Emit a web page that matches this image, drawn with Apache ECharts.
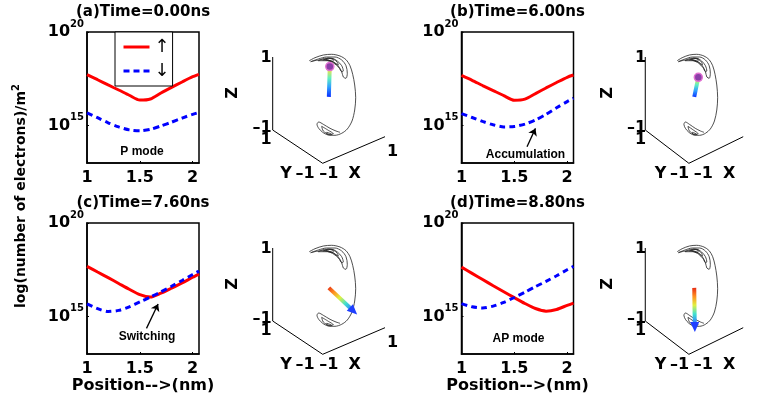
<!DOCTYPE html>
<html>
<head>
<meta charset="utf-8">
<script src="https://cdn.jsdelivr.net/npm/echarts@6/dist/echarts.min.js"></script>
<style>
  html, body { margin: 0; padding: 0; background: #fff; }
  #chart { width: 763px; height: 406px; }
</style>
</head>
<body>
<div id="chart"></div>
<script>
  // position along the device (nm)
  var position = [1.0, 1.1, 1.2, 1.3, 1.4, 1.5, 1.6, 1.7, 1.8, 1.9, 2.0, 2.06];
  // log10 of electron density (/m^2), spin up = red, spin down = blue
  var upA   = [17.72, 17.45, 17.17, 16.90, 16.62, 16.36, 16.42, 16.74, 17.04, 17.33, 17.61, 17.74];
  var downA = [15.68, 15.42, 15.15, 14.93, 14.77, 14.72, 14.80, 14.98, 15.18, 15.40, 15.60, 15.70];
  var upB   = [17.68, 17.42, 17.14, 16.87, 16.60, 16.35, 16.41, 16.71, 17.01, 17.30, 17.58, 17.70];
  var downB = [15.64, 15.43, 15.22, 15.04, 14.93, 14.95, 15.08, 15.30, 15.60, 15.95, 16.28, 16.46];
  var upC   = [17.68, 17.38, 17.08, 16.77, 16.46, 16.17, 16.04, 16.25, 16.52, 16.80, 17.10, 17.27];
  var downC = [15.68, 15.42, 15.27, 15.33, 15.52, 15.78, 16.04, 16.32, 16.62, 16.93, 17.25, 17.43];
  var upD   = [17.64, 17.31, 16.98, 16.65, 16.33, 16.01, 15.70, 15.43, 15.29, 15.38, 15.60, 15.72];
  var downD = [15.69, 15.52, 15.46, 15.56, 15.76, 16.02, 16.30, 16.60, 16.88, 17.18, 17.50, 17.68];

  var upList = [upA, upB, upC, upD];
  var downList = [downA, downB, downC, downD];
  var titles = ['(a)Time=0.00ns', '(b)Time=6.00ns', '(c)Time=7.60ns', '(d)Time=8.80ns'];
  var notes = ['P mode', 'Accumulation', 'Switching', 'AP mode'];
  var xTicks = [1, 1.5, 2];
  var yTicks = [15, 20]; // exponents

  // magnetization vector (mx, my, mz) for each frame
  var mVec = [[0.03, 0, 0.82], [0.15, 0, 0.48], [0.51, -0.35, -0.66], [0.02, 0, -1.08]];

  // switching trajectory on the sphere, projected (panel units)
  var traj = [
    [[36.6,3.7],[42.3,0.7],[50.6,-2],[59,-2.7],[67.3,-1],[73.3,2.7],[77.3,8.7],[80,17.3],[82,28],[83,40.7],[82,53],[79.3,64],[74.6,72],[69,76.3],[62.3,78.3],[55.6,78],[50,75.3],[46,71.3],[44.3,67.3],[46,65],[50.6,67.3],[57.3,71.3],[63.3,74],[67.3,75.3]],
    [[38,4.7],[45.6,2],[54,0],[62.3,0],[69,3],[73.3,8.7],[74.6,16.3],[73.3,21.3],[70.6,20],[69,14.7],[65.6,9],[60,4.7],[52.3,2.7],[44,3.3],[38,4.7]],
    [[45.6,3.7],[52.3,1.3],[59,1.3],[64.6,4],[69,8.7],[70.6,14],[69,14.7],[66.3,10.7],[61.3,6.3],[54.6,3.7],[45.6,3.7]],
    [[50.6,3],[55.6,1],[60.6,2],[64.6,5.3],[65.6,8],[63.3,6.7],[59,4],[53.3,3],[50.6,3]],
    [[53,2.5],[57,1.5],[61,3],[59,4.5],[55,3.5],[53,2.5]],
    [[49,69.3],[55.6,73.3],[60.6,76.7],[56.6,77.3],[50.6,74],[49,69.3]],
    [[54,75.3],[58,76.7],[59,78],[54.6,77.3],[54,75.3]]
  ];

  // panel offsets (px)
  var offs = [[0, 0], [374.5, 0], [0, 191], [374.5, 191]];

  // simple view projection for the 3-D insets
  var C0 = [56.15, 39.85], EX = [31.15, -13.3], EY = [-25, -16.65], EZ = [0, -36.5];
  function proj(p) {
    return [C0[0] + p[0] * EX[0] + p[1] * EY[0] + p[2] * EZ[0],
            C0[1] + p[0] * EX[1] + p[1] * EY[1] + p[2] * EZ[1]];
  }

  var FONT = 'DejaVu Sans';
  var grids = [], xAxes = [], yAxes = [], series = [], graphics = [];

  var jetUp = [
    { offset: 0, color: '#0010ff' }, { offset: 0.35, color: '#30a0ff' },
    { offset: 0.6, color: '#60f0c0' }, { offset: 0.85, color: '#ffe040' }, { offset: 1, color: '#ffa020' }
  ];
  var jetDown = [
    { offset: 0, color: '#e01010' }, { offset: 0.25, color: '#ff9020' }, { offset: 0.45, color: '#e0f040' },
    { offset: 0.65, color: '#40e0d0' }, { offset: 0.85, color: '#3080ff' }, { offset: 1, color: '#1030ff' }
  ];

  for (var i = 0; i < 4; i++) {
    var ox = offs[i][0], oy = offs[i][1];
    // line plot
    grids.push({ left: 87 + ox, top: 32 + oy, width: 112, height: 131, show: true, borderColor: '#000', borderWidth: 1.5 });
    xAxes.push({
      gridIndex: 2 * i, type: 'value', min: 1, max: 2.06,
      axisLine: { show: true, lineStyle: { color: '#000', width: 1.5 } },
      axisTick: { show: true, inside: true, length: 2, customValues: xTicks, lineStyle: { color: '#000' } },
      axisLabel: { customValues: xTicks, color: '#000', fontFamily: FONT, fontWeight: 'bold', fontSize: 16, margin: 7 },
      splitLine: { show: false },
      name: i >= 2 ? 'Position-->(nm)' : '', nameLocation: 'middle', nameGap: 21,
      nameTextStyle: { color: '#000', fontFamily: FONT, fontWeight: 'bold', fontSize: 16, verticalAlign: 'top' }
    });
    yAxes.push({
      gridIndex: 2 * i, type: 'value', min: 13, max: 20,
      axisLine: { show: true, lineStyle: { color: '#000', width: 1.5 } },
      axisTick: { show: true, inside: true, length: 2, customValues: yTicks, lineStyle: { color: '#000' } },
      axisLabel: {
        customValues: yTicks, margin: 3,
        formatter: function (v) { return '{b|10}{s|' + v + '}'; },
        rich: {
          b: { fontFamily: FONT, fontWeight: 'bold', fontSize: 16, color: '#000', verticalAlign: 'middle' },
          s: { fontFamily: FONT, fontWeight: 'bold', fontSize: 10, color: '#000', verticalAlign: 'top', padding: [0, 0, 16, 0] }
        }
      },
      splitLine: { show: false }
    });

    var upS = {
      name: '\u2191', type: 'line', xAxisIndex: 2 * i, yAxisIndex: 2 * i,
      data: position.map(function (x, k) { return [x, upList[i][k]]; }),
      showSymbol: false, symbol: 'none', smooth: 0.25,
      lineStyle: { color: '#ff0000', width: 3 }, itemStyle: { color: '#ff0000' }
    };
    var downS = {
      name: '\u2193', type: 'line', xAxisIndex: 2 * i, yAxisIndex: 2 * i,
      data: position.map(function (x, k) { return [x, downList[i][k]]; }),
      showSymbol: false, symbol: 'none', smooth: 0.25,
      lineStyle: { color: '#0000ff', width: 3, type: [6, 4] }, itemStyle: { color: '#0000ff' }
    };
    if (i === 1) {
      downS.markLine = {
        silent: true, symbol: ['none', 'arrow'], symbolSize: 7, label: { show: false },
        lineStyle: { color: '#000', width: 1.3, type: 'solid' },
        data: [[{ coord: [1.62, 13.87] }, { coord: [1.70, 14.85] }]]
      };
    }
    if (i === 2) {
      downS.markLine = {
        silent: true, symbol: ['none', 'arrow'], symbolSize: 7, label: { show: false },
        lineStyle: { color: '#000', width: 1.3, type: 'solid' },
        data: [[{ coord: [1.563, 14.37] }, { coord: [1.673, 15.67] }]]
      };
    }
    series.push(upS, downS);

    // 3-D inset (projected)
    var zx = 272.7 + ox, zy = 57 + oy;
    grids.push({ left: zx - 15, top: zy - 10, width: 150, height: 130 });
    xAxes.push({ gridIndex: 2 * i + 1, type: 'value', min: -15, max: 135, show: false });
    yAxes.push({ gridIndex: 2 * i + 1, type: 'value', min: -10, max: 120, inverse: true, show: false });

    series.push({
      type: 'line', xAxisIndex: 2 * i + 1, yAxisIndex: 2 * i + 1, silent: true,
      data: [[-1, 1, 1], [-1, 1, -1], [-1, -1, -1], [1, -1, -1]].map(proj),
      showSymbol: false, symbol: 'none', lineStyle: { color: '#000', width: 1 }
    });
    traj.forEach(function (t) {
      series.push({
        type: 'line', xAxisIndex: 2 * i + 1, yAxisIndex: 2 * i + 1, silent: true,
        data: t, showSymbol: false, symbol: 'none', smooth: 0.3,
        lineStyle: { color: '#222', width: 0.8 }
      });
    });

    var tail = proj([0, 0, 0]), head = proj(mVec[i]);
    var ang = Math.atan2(-(head[1] - tail[1]), head[0] - tail[0]) * 180 / Math.PI;
    var pointsUp = i < 2;
    var grad;
    if (pointsUp) {
      grad = new echarts.graphic.LinearGradient(0, 1, 0, 0, jetUp);
    } else if (i === 2) {
      grad = new echarts.graphic.LinearGradient(0, 0, 1, 1, jetDown);
    } else {
      grad = new echarts.graphic.LinearGradient(0, 0, 0, 1, jetDown);
    }
    series.push({
      type: 'line', xAxisIndex: 2 * i + 1, yAxisIndex: 2 * i + 1, silent: true,
      data: [
        { value: tail, symbol: 'none' },
        pointsUp
          ? { value: head, symbol: 'circle', symbolSize: 8, itemStyle: { color: '#8a3fa8', borderColor: '#e070d0', borderWidth: 1.5 } }
          : { value: head, symbol: 'triangle', symbolSize: [9, 10], symbolRotate: ang - 90, itemStyle: { color: '#1f3fff' } }
      ],
      showSymbol: true, showAllSymbol: true,
      lineStyle: { color: grad, width: 4 }
    });

    // panel title
    graphics.push({
      type: 'text', x: 143 + ox, y: 12 + oy,
      style: { text: titles[i], align: 'center', verticalAlign: 'middle', fill: '#000', font: 'bold 15px "DejaVu Sans"' }
    });
    // annotation
    var notePos = [[55, 120], [64, 123], [60, 114], [57, 116]][i];
    graphics.push({
      type: 'text', x: 87 + ox + notePos[0], y: 32 + oy + notePos[1],
      style: { text: notes[i], align: 'center', verticalAlign: 'middle', fill: '#000', font: 'bold 12px "Liberation Sans"' }
    });
    // 3-D axis labels
    var lab = function (txt, dx, dy, rot, align) {
      graphics.push({
        type: 'text', x: zx + dx, y: zy + dy, rotation: rot || 0,
        style: { text: txt, align: align || 'center', verticalAlign: 'middle', fill: '#000', font: 'bold 16px "DejaVu Sans"' }
      });
    };
    lab('1', -1, 1, 0, 'right');
    lab('\u20131', -1, 71, 0, 'right');
    lab('1', -1, 83, 0, 'right');
    lab('Z', -39.7, 36, Math.PI / 2);
    lab('Y', 13.3, 117);
    lab('\u20131', 32.3, 117);
    lab('\u20131', 56, 117);
    lab('X', 82, 117);
    lab('1', 119.8, 95);
  }

  graphics.push({
    type: 'text', x: 21, y: 196, rotation: Math.PI / 2,
    style: {
      text: '{a|log(number of electrons)/m}{s|2}', align: 'center', verticalAlign: 'middle',
      rich: {
        a: { fontFamily: FONT, fontWeight: 'bold', fontSize: 14, fill: '#000', verticalAlign: 'middle' },
        s: { fontFamily: FONT, fontWeight: 'bold', fontSize: 10, fill: '#000', verticalAlign: 'top', padding: [0, 0, 10, 0] }
      }
    }
  });

  var chart = echarts.init(document.getElementById('chart'), null, { renderer: 'canvas' });
  chart.setOption({
    animation: false,
    backgroundColor: '#fff',
    grid: grids,
    xAxis: xAxes,
    yAxis: yAxes,
    legend: {
      data: ['\u2191', '\u2193'], orient: 'vertical', left: 115, top: 32,
      padding: [6, 3, 6, 7], itemGap: 6, itemWidth: 26, itemHeight: 18,
      borderColor: '#000', borderWidth: 1, backgroundColor: '#fff',
      itemStyle: { opacity: 0 },
      lineStyle: { width: 3 },
      textStyle: { fontFamily: FONT, fontSize: 18, color: '#000', lineHeight: 18 },
      selectedMode: false
    },
    series: series,
    graphic: graphics
  });
</script>
</body>
</html>
